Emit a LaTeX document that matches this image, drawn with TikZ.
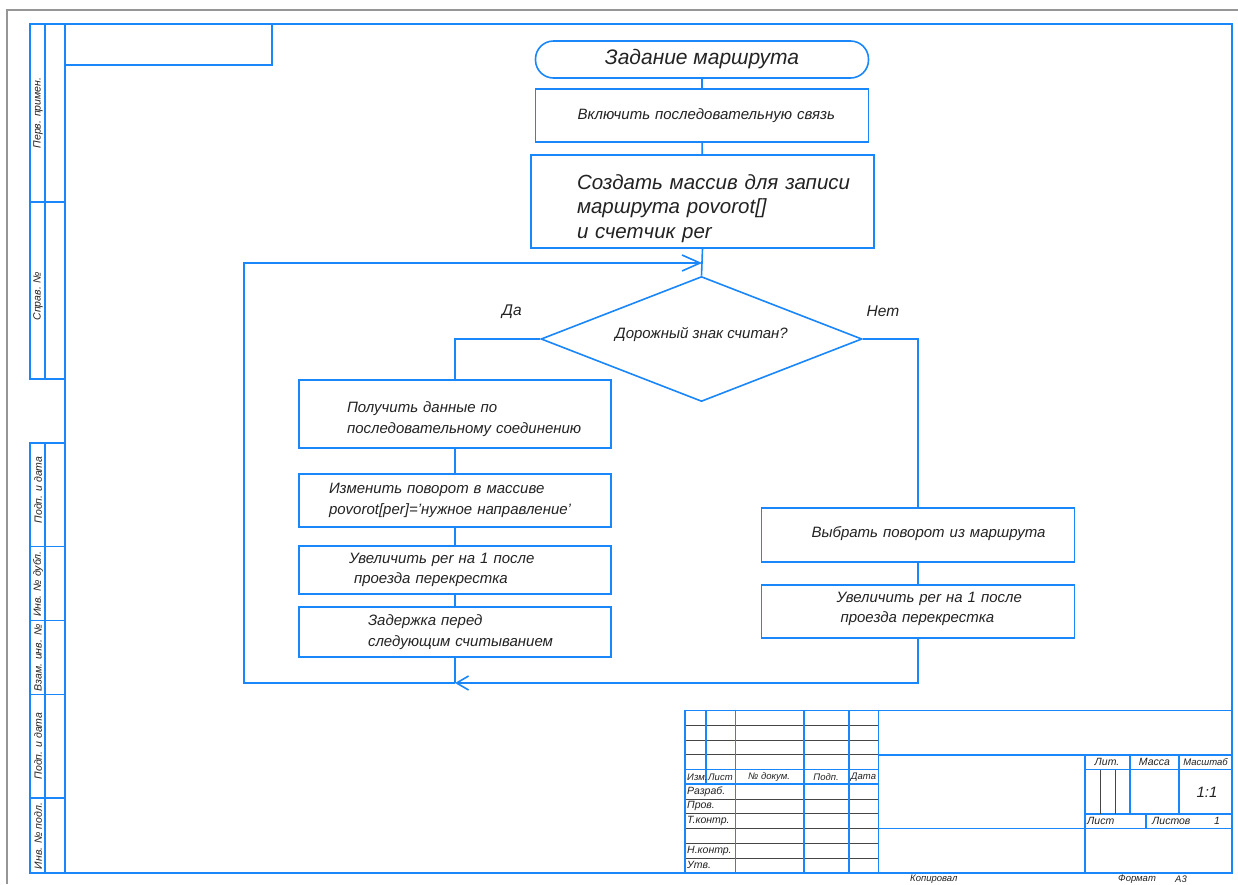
\documentclass[tikz,border=0pt]{standalone}
\usepackage{fontspec}
\setmainfont{Liberation Sans}
\usetikzlibrary{shapes.geometric,arrows.meta}
\definecolor{cadblue}{RGB}{25,135,250}
\definecolor{ink}{RGB}{35,35,35}
\definecolor{outerframe}{RGB}{150,150,150}
\definecolor{thinline}{RGB}{70,70,70}
\tikzset{
  openhead/.tip={Straight Barb[length=18pt,width=16pt]},
  smallhead/.tip={Straight Barb[length=12pt,width=14pt]},
  conn/.style={draw=cadblue,line width=1.6pt},
  thick line/.style={draw=cadblue,line width=1.6pt},
  thin line/.style={draw=thinline,line width=1pt},
  blk/.style={draw=cadblue,line width=1.6pt,rectangle,inner xsep=0pt,inner ysep=0pt,
    align=left,text=ink,font=\itshape\fontsize{15}{20.5}\selectfont},
  term/.style={draw=cadblue,line width=1.6pt,rectangle,rounded corners=18pt,
    text=ink,font=\itshape\fontsize{21}{24}\selectfont},
  decision/.style={draw=cadblue,line width=1.6pt,diamond,inner sep=0pt,aspect=2.57,
    text=ink,font=\itshape\fontsize{15}{20}\selectfont},
  lbl/.style={text=ink,font=\itshape\fontsize{15.5}{20}\selectfont,inner sep=0pt},
  side/.style={text=ink,font=\itshape\fontsize{10.5}{12}\selectfont,inner sep=0pt,rotate=90},
  tb/.style={text=ink,font=\itshape\fontsize{10.5}{12}\selectfont,inner sep=0pt},
  tbh/.style={text=ink,font=\itshape\fontsize{9.5}{11}\selectfont,inner sep=0pt}
}
\begin{document}
\begin{tikzpicture}[x=1pt,y=-1pt]
\useasboundingbox (0,0) rectangle (1238,884);
\clip (0,0) rectangle (1238,884);
\fill[white] (0,0) rectangle (1238,884);

% outer gray sheet edge
\draw[outerframe,line width=1.5pt] (7,884) -- (7,10) -- (1238,10);

% main frame
\draw[thick line] (65,24) rectangle (1232,872.75);
% top-left box
\draw[thick line] (65,24) rectangle (272,65);
% left strip, upper
\draw[thick line] (30,24) rectangle (65,379);
\draw[thick line] (45,24) -- (45,379);
\draw[thick line] (30,202) -- (65,202);
% left strip, lower
\draw[thick line] (30,443) rectangle (65,872.75);
\draw[thick line] (45,443) -- (45,872.75);
\foreach \yy in {546.5,620.5,694.5,798} \draw[thick line] (30,\yy) -- (65,\yy);

\node[side] (s1) at (38,113) {Перв. примен.};
\node[side] (s2) at (38,296) {Справ. №};
\node[side] (s3) at (38,490) {Подп. и дата};
\node[side] (s4) at (38,584) {Инв. № дубл.};
\node[side] (s5) at (38,658) {Взам. инв. №};
\node[side] (s6) at (38,746) {Подп. и дата};
\node[side] (s7) at (38,836) {Инв. № подл.};

% ---------------- title block ----------------
% left part thin rows
\foreach \yy in {725.25,740,754.75} \draw[thin line] (685,\yy) -- (878.5,\yy);
\foreach \yy in {799,813.75,828.5,843.25,858} \draw[thin line] (685,\yy) -- (878.5,\yy);
\draw[thick line] (685,710.5) rectangle (1232,872.75);
\foreach \yy in {769.5,784.25} \draw[thick line] (685,\yy) -- (878.5,\yy);
\draw[thick line] (706,710.5) -- (706,784.25);
\foreach \xx in {735.5,804,849,878.5} \draw[thick line] (\xx,710.5) -- (\xx,872.75);
% right part
\draw[thick line] (878.5,754.75) -- (1232,754.75);
\draw[thick line] (878.5,828.5) -- (1232,828.5);
\draw[thick line] (1085,754.75) -- (1085,872.75);
\draw[thick line] (1085,769.5) -- (1232,769.5);
\draw[thick line] (1085,813.75) -- (1232,813.75);
\draw[thick line] (1130,754.75) -- (1130,813.75);
\draw[thick line] (1179,754.75) -- (1179,813.75);
\draw[thick line] (1146,813.75) -- (1146,828.5);
\draw[thin line] (1100,769.5) -- (1100,813.75);
\draw[thin line] (1115,769.5) -- (1115,813.75);

\node[tbh,anchor=west] (t1) at (687,777) {Изм.};
\node[tbh,anchor=west] (t2) at (708,777) {Лист};
\node[tbh] (t3) at (769,777) {№ докум.};
\node[tbh] (t4) at (826,777) {Подп.};
\node[tbh] (t5) at (863.5,777) {Дата};
\node[tb,anchor=west] (t6) at (687,791.6) {Разраб.};
\node[tb,anchor=west] (t7) at (687,806.4) {Пров.};
\node[tb,anchor=west] (t8) at (687,821.1) {Т.контр.};
\node[tb,anchor=west] (t9) at (687,850.6) {Н.контр.};
\node[tb,anchor=west] (t10) at (687,865.4) {Утв.};
\node[tb] (t11) at (1107,762) {Лит.};
\node[tb] (t12) at (1154.5,762) {Масса};
\node[tbh] (t13) at (1205.5,762) {Масштаб};
\node[text=ink,font=\itshape\fontsize{15}{17}\selectfont,inner sep=0pt] (t14) at (1207,792) {1:1};
\node[tb,anchor=west] (t15) at (1087,821) {Лист};
\node[tb,anchor=west] (t16) at (1152,821) {Листов};
\node[tb] (t17) at (1217,821) {1};
\node[tb,anchor=west,font=\itshape\fontsize{9.5}{11}\selectfont] (t18) at (910,879) {Копировал};
\node[tb,anchor=west,font=\itshape\fontsize{9.5}{11}\selectfont] (t19) at (1118,879) {Формат};
\node[tb,anchor=west,font=\itshape\fontsize{9.5}{11}\selectfont] (t20) at (1175,879) {А3};

% ---------------- flowchart ----------------
\node[term,minimum width=333,minimum height=37] (start) at (702,59.5) {Задание маршрута};
\node[blk,text width=333,minimum height=53] (b2) at (702,115.5)
  {\hspace*{42pt}Включить последовательную связь};
\node[blk,text width=343,minimum height=93,font=\itshape\fontsize{20.5}{24.5}\selectfont] (b3) at (702.5,201.5)
  {\rule{0pt}{29pt}\hspace*{46pt}Создать массив для записи\\\hspace*{46pt}маршрута povorot[]\\\hspace*{46pt}и счетчик per};
\node[decision,minimum width=321,minimum height=125] (dia) at (701.5,339)
  {\raisebox{12pt}{Дорожный знак считан?}};

\node[blk,text width=312,minimum height=68] (l1) at (455,414)
  {\rule{0pt}{21pt}\hspace*{48pt}Получить данные по\\\hspace*{48pt}последовательному соединению};
\node[blk,text width=312,minimum height=53] (l2) at (455,500.5)
  {\hspace*{30pt}Изменить поворот в массиве\\\hspace*{30pt}povorot[per]='нужное направление'};
\node[blk,text width=312,minimum height=48] (l3) at (455,570)
  {\hspace*{50pt}Увеличить per на 1 после\\\hspace*{55pt}проезда перекрестка};
\node[blk,text width=312,minimum height=50] (l4) at (455,632)
  {\hspace*{69pt}Задержка перед\\\hspace*{69pt}следующим считыванием};

\node[blk,text width=313,minimum height=54] (r1) at (918,535)
  {\hspace*{50pt}Выбрать поворот из маршрута\rule[-6pt]{0pt}{6pt}};
\node[blk,text width=313,minimum height=53] (r2) at (918,611.5)
  {\hspace*{75pt}Увеличить per на 1 после\\\hspace*{79pt}проезда перекрестка\rule[-8pt]{0pt}{8pt}};

\node[lbl] (yes) at (512,312) {Да};
\node[lbl] (no) at (883,311) {Нет};

\coordinate (j) at (702,263);
\coordinate (m) at (455,683);
\coordinate (c1) at (244,683);
\coordinate (c2) at (244,263);

\draw[conn] (start) -- (b2);
\draw[conn] (b2) -- (b3);
\draw[conn] (b3.south) -- (dia.north);
\draw[conn] (dia.west) -| (l1.north);
\draw[conn] (l1) -- (l2);
\draw[conn] (l2) -- (l3);
\draw[conn] (l3) -- (l4);
\draw[conn] (l4.south) -- (m);
\draw[conn] (dia.east) -| (r1.north);
\draw[conn] (r1) -- (r2);
\draw[conn,-{smallhead}] (r2.south) |- (m);
\draw[conn,-{openhead}] (m) -- (c1) -- (c2) -- (j);
\end{tikzpicture}
\end{document}
